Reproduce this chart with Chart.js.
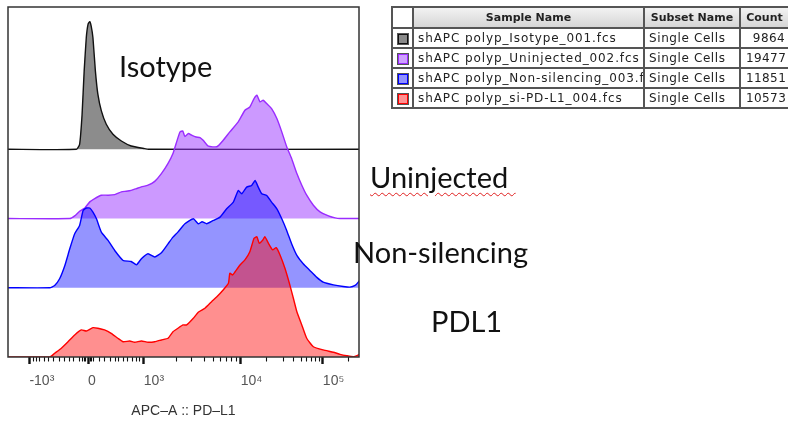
<!DOCTYPE html>
<html>
<head>
<meta charset="utf-8">
<script src="https://cdn.jsdelivr.net/npm/chart.js@4.4.1/dist/chart.umd.min.js"></script>
<style>
  body { margin: 0; background: #fff; }
  #wrap { position: relative; width: 788px; height: 423px; overflow: hidden; }
  canvas { position: absolute; left: 0; top: 0; }
  .lbl { position: absolute; font-family: Lato, "Open Sans", sans-serif; font-size: 29px; line-height: 28px; color: #111; white-space: nowrap; }
  .squiggle { text-decoration: underline wavy #e02020; text-decoration-thickness: 1px; text-underline-offset: 4px; }
  #tbl { position: absolute; left: 391px; top: 6px; width: 397px; border-collapse: collapse; font-family: "DejaVu Sans", sans-serif; font-size: 12px; color: #222; table-layout: fixed; }
  #tbl td, #tbl th { border: 2px solid #555; padding: 0 5px; height: 18px; overflow: hidden; white-space: nowrap; }
  #tbl th { font-size: 11px; font-weight: bold; background: linear-gradient(#f2f2f2, #d6d6d6); height: 19px; }
  #tbl th.corner { background: #fff; }
  #tbl td.name { letter-spacing: 0.9px; text-overflow: clip; padding-left: 4px; }
  #tbl td.sub { letter-spacing: 0.6px; padding-left: 4px; }
  #tbl td.num { text-align: right; padding-right: 3px; letter-spacing: 0.4px; }
  #tbl td.sw { padding: 0; text-align: center; }
  .box { display: inline-block; width: 8px; height: 8px; vertical-align: middle; box-shadow: 0 0 0 1px #555; }
</style>
</head>
<body>
<div id="wrap">
  <canvas id="chart" width="788" height="423"></canvas>
  <div class="lbl" style="left:119px;top:52px">Isotype</div>
  <div class="lbl" style="left:370px;top:163px"><span class="squiggle">Uninjected&nbsp;</span></div>
  <div class="lbl" style="left:353px;top:238px">Non-silencing</div>
  <div class="lbl" style="left:431px;top:307px">PDL1</div>
  <table id="tbl"></table>
</div>
<script>
// x in display channels (0-1000 across the plot), y in % of the tallest peak
const isoX = [0, 195, 204, 211, 217, 223, 228, 233, 237, 242, 249, 256, 266, 280, 299, 323, 351, 389, 400, 1000];
const isoY = [0, 0, 3.9, 27, 61, 87, 97.5, 99.6, 96, 87, 61, 43, 30, 19.5, 11.7, 6.5, 2.6, 0.5, 0, 0];

const unX = [0, 176, 190, 204, 219, 233, 247, 266, 285, 304, 323, 337, 351, 366, 380, 399, 418, 437, 456, 470,
  479, 490, 498, 504, 514, 523, 536, 547, 556, 571, 595, 613, 632, 656, 675, 689, 701, 709, 718, 727,
  737, 751, 766, 780, 794, 808, 823, 837, 851, 870, 889, 913, 932, 946, 1000];
const unY = [0, 0, 2.1, 5.7, 8.3, 13, 15.6, 18.2, 18.2, 18.7, 20.8, 21.3, 22, 23.4, 24.7, 26, 29, 35, 43, 50.7,
  58.5, 67.5, 68.3, 64, 66.3, 65, 63.6, 63.2, 61, 56.4, 56, 61, 67.6, 75.4, 84.5, 87, 93.6, 96.2, 91, 92.3,
  89.7, 85.8, 78, 67.6, 56, 46.8, 35.1, 26, 18.2, 10.4, 5.2, 2.1, 0.5, 0, 0];

const nsX = [0, 119, 133, 147, 162, 176, 190, 204, 214, 223, 233, 242, 252, 266, 285, 304, 328, 351, 366, 380,
  399, 418, 437, 456, 470, 484, 504, 528, 542, 553, 566, 585, 604, 623, 642, 656, 666, 680, 694, 704,
  713, 723, 737, 751, 766, 780, 794, 808, 823, 841, 860, 879, 898, 927, 955, 974, 989, 998, 1000];
const nsY = [0, 0, 1.8, 7, 17.4, 30.4, 42.1, 48.6, 60.3, 62.2, 62.2, 59, 53.8, 43.4, 36.9, 29.1, 21.3, 20.5, 17.9, 22.6,
  26.5, 24, 27.3, 34.3, 39.5, 43.4, 49.9, 53.8, 49.9, 51.5, 49.9, 52.5, 55.1, 61.6, 66.8, 75.9, 73.3, 78.5, 79.8, 83.7,
  78.5, 73.3, 72, 66.8, 61.6, 53.8, 44.7, 34.3, 25.2, 18.7, 13.5, 8.3, 4.4, 2.3, 1, 0.5, 1.8, 4.4, 5.5];

const pdX = [0, 119, 133, 152, 171, 190, 209, 223, 242, 256, 275, 294, 313, 328, 347, 361, 380, 399, 418, 437,
  456, 470, 484, 499, 509, 528, 542, 561, 580, 595, 613, 628, 632, 640, 647, 661, 675, 689, 701, 709,
  716, 726, 732, 742, 754, 764, 775, 789, 803, 813, 823, 837, 851, 870, 898, 927, 946, 965, 984, 998, 1000];
const pdY = [0, 0, 2.9, 6.8, 11.9, 17.2, 21.1, 20.3, 22.9, 22.4, 21.1, 18.5, 14.6, 11.9, 12.5, 11.5, 12.5, 11.5, 11.9, 13.3,
  14.6, 19.7, 22.4, 25, 25, 30.2, 34.9, 38, 43.1, 47, 52.3, 57.5, 65.3, 64, 66.5, 71.8, 75.7, 82.1, 92.6, 93.8,
  88.7, 91.3, 93.8, 88.7, 83.5, 85.3, 79.6, 69.2, 56.2, 45.8, 35.3, 25, 14.6, 8, 5.5, 3.7, 2.1, 1, 0.2, 1.6, 2];

const laneStep = 54;
const yMax = 273;

const majorTicks = [61, 228, 387, 663, 897];
const majorLabels = ["-10³", "0", "10³", "10⁴", "10⁵"];
const minorTicks = [72, 82, 91, 103, 115, 129, 146, 162, 174, 188, 205, 211, 217, 222, 234, 239, 245,
  262, 274, 291, 305, 316, 328, 341, 354, 367, 376, 481, 523, 559, 585, 606, 623, 636, 650,
  737, 784, 813, 837, 851, 865, 877, 887, 969];

const sampleNames = ["shAPC polyp_Isotype_001.fcs", "shAPC polyp_Uninjected_002.fcs", "shAPC polyp_Non-silencing_003.fcs", "shAPC polyp_si-PD-L1_004.fcs"];
const subsetNames = ["Single Cells", "Single Cells", "Single Cells", "Single Cells"];
const counts = [9864, 19477, 11851, 10573];
const lineColors = ["#111111", "#9a2cff", "#0000ff", "#ff0000"];
const fillColors = ["rgba(0,0,0,0.45)", "rgba(153,51,255,0.5)", "rgba(0,0,255,0.42)", "rgba(255,0,0,0.44)"];
const swatchFill = ["#8a8a8a", "#cfa0ff", "#9090ff", "#ff9090"];

// table
const tbl = document.getElementById("tbl");
let html = '<colgroup><col style="width:21px"><col style="width:231px"><col style="width:96px"><col style="width:49px"></colgroup>';
html += '<tr><th class="corner"></th><th>Sample Name</th><th>Subset Name</th><th>Count</th></tr>';
sampleNames.forEach((n, i) => {
    html += `<tr><td class="sw"><span class="box" style="background:${swatchFill[i]};border:1px solid ${lineColors[i]}"></span></td>` +
        `<td class="name">${n}</td><td class="sub">${subsetNames[i]}</td><td class="num">${counts[i]}</td></tr>`;
});
tbl.innerHTML = html;

function lane(xs, ys, k, i) {
    const base = k * laneStep;
    return {
        label: sampleNames[i],
        data: xs.map((x, j) => ({ x, y: base + ys[j] })),
        borderColor: lineColors[i],
        backgroundColor: fillColors[i],
        borderWidth: 1.4,
        pointRadius: 0,
        tension: 0.15,
        fill: { value: base }
    };
}

const frame = {
    id: "frame",
    afterDraw(chart) {
        const { ctx, chartArea: a } = chart;
        ctx.save();
        ctx.strokeStyle = "#333";
        ctx.lineWidth = 1.5;
        ctx.strokeRect(a.left, a.top, a.right - a.left, a.bottom - a.top);
        ctx.restore();
    }
};

new Chart(document.getElementById("chart").getContext("2d"), {
    type: "line",
    data: {
        datasets: [
            lane(pdX, pdY, 0, 3),
            lane(nsX, nsY, 1, 2),
            lane(unX, unY, 2, 1),
            lane(isoX, isoY, 3, 0)
        ]
    },
    options: {
        responsive: false,
        animation: false,
        layout: { padding: { left: 8, top: 7, right: 429, bottom: 0 } },
        plugins: { legend: { display: false }, tooltip: { enabled: false } },
        scales: {
            x: {
                type: "linear",
                min: 0,
                max: 1000,
                afterBuildTicks: s => { s.ticks = [...majorTicks, ...minorTicks].sort((a, b) => a - b).map(v => ({ value: v })); },
                afterFit: s => { s.height = 66; },
                border: { display: false },
                grid: {
                    drawOnChartArea: false,
                    tickLength: 7,
                    tickColor: "#111",
                    tickWidth: c => majorTicks.includes(c.tick.value) ? 2.4 : 1.1,
                    tickBorderDash: c => majorTicks.includes(c.tick.value) ? [] : [4.5, 20]
                },
                ticks: {
                    autoSkip: false,
                    maxRotation: 0,
                    align: "start",
                    padding: 9,
                    color: "#555",
                    font: { family: "Liberation Sans, DejaVu Sans", size: 14 },
                    callback: v => { const i = majorTicks.indexOf(v); return i >= 0 ? majorLabels[i] : ""; }
                },
                title: {
                    display: true,
                    text: "APC–A :: PD–L1",
                    color: "#333",
                    font: { family: "Liberation Sans, DejaVu Sans", size: 14 },
                    padding: { top: 4, bottom: 3 }
                }
            },
            y: { display: false, min: 0, max: yMax }
        }
    },
    plugins: [frame]
});
</script>
</body>
</html>
